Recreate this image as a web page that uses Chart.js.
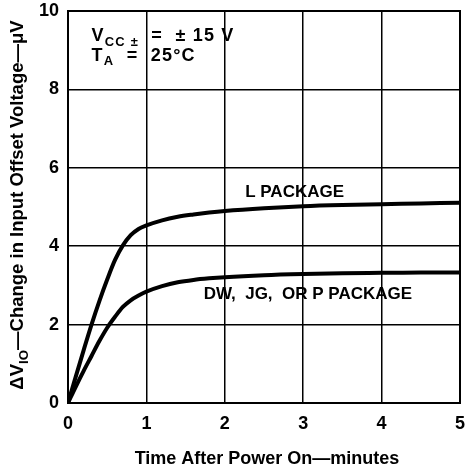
<!DOCTYPE html>
<html>
<head>
<meta charset="utf-8">
<script src="https://cdn.jsdelivr.net/npm/chart.js@4/dist/chart.umd.min.js"></script>
<style>
  html, body { margin: 0; padding: 0; background: #fff; }
  #wrap { width: 468px; height: 468px; }
</style>
</head>
<body>
<div id="wrap"><canvas id="drift" width="468" height="468"></canvas></div>
<script>
// time after power on, minutes
const timeL = [0, 0.1, 0.2, 0.3, 0.4, 0.5, 0.6, 0.7, 0.8, 0.9, 1.0, 1.2, 1.4, 1.6, 1.8, 2.0, 2.5, 3.0, 3.5, 4.0, 4.5, 5.0];
const lPackage = [0, 0.68, 1.35, 2.0, 2.6, 3.15, 3.65, 4.02, 4.28, 4.44, 4.53, 4.66, 4.75, 4.81, 4.86, 4.9, 4.97, 5.02, 5.05, 5.07, 5.09, 5.11];

const timeDW = [0, 0.1, 0.2, 0.3, 0.4, 0.5, 0.6, 0.7, 0.8, 0.9, 1.0, 1.2, 1.4, 1.6, 1.8, 2.0, 2.5, 3.0, 3.5, 4.0, 4.5, 5.0];
const dwPackage = [0, 0.42, 0.82, 1.2, 1.58, 1.92, 2.2, 2.45, 2.62, 2.74, 2.84, 2.98, 3.08, 3.14, 3.18, 3.21, 3.26, 3.29, 3.31, 3.32, 3.33, 3.33];

const xTicks = [0, 1, 2, 3, 4, 5];
const yTicks = [0, 2, 4, 6, 8, 10];

const FONT = '"Liberation Sans", Arial, Helvetica, sans-serif';

function toPoints(xs, ys) {
  return xs.map((x, i) => ({ x, y: ys[i] }));
}

// draws a run of text pieces, some of them as subscripts
function drawRich(ctx, parts, x, y, size, align, spacing) {
  ctx.letterSpacing = (spacing || 0) + 'px';
  const widths = parts.map(p => {
    ctx.font = `bold ${p.sub ? size * 0.72 : size}px ${FONT}`;
    return ctx.measureText(p.t).width;
  });
  const total = widths.reduce((a, b) => a + b, 0);
  let cx = align === 'center' ? x - total / 2 : x;
  ctx.textAlign = 'left';
  ctx.textBaseline = 'alphabetic';
  parts.forEach((p, i) => {
    ctx.font = `bold ${p.sub ? size * 0.72 : size}px ${FONT}`;
    ctx.fillText(p.t, cx, y + (p.sub ? size * 0.25 : 0));
    cx += widths[i];
  });
  ctx.letterSpacing = '0px';
}

const labelsPlugin = {
  id: 'labels',
  afterDraw(chart) {
    const { ctx, chartArea, scales } = chart;
    const xs = scales.x;
    const ys = scales.y;
    ctx.save();
    ctx.fillStyle = '#000';

    // conditions box
    drawRich(ctx, [{ t: 'V' }, { t: 'CC \u00b1', sub: true }, { t: '  =  \u00b1 15 V' }],
      xs.getPixelForValue(0.3), ys.getPixelForValue(9.39) + 6.5, 18, 'left', 1.2);
    drawRich(ctx, [{ t: 'T' }, { t: 'A', sub: true }, { t: '  =  25\u00b0C' }],
      xs.getPixelForValue(0.3), ys.getPixelForValue(8.9) + 6.5, 18, 'left', 1.2);

    // curve labels
    drawRich(ctx, [{ t: 'L PACKAGE' }], xs.getPixelForValue(2.26), ys.getPixelForValue(5.42) + 6, 17, 'left');
    drawRich(ctx, [{ t: 'DW,  JG,  OR P PACKAGE' }], xs.getPixelForValue(1.73), ys.getPixelForValue(2.8) + 6, 17, 'left');

    // x axis title
    drawRich(ctx, [{ t: 'Time After Power On\u2014minutes' }],
      (chartArea.left + chartArea.right) / 2 + 3, 463.5, 18, 'center');

    // y axis title, rotated
    ctx.translate(23, (chartArea.top + chartArea.bottom) / 2 - 2);
    ctx.rotate(-Math.PI / 2);
    drawRich(ctx, [{ t: '\u0394V' }, { t: 'IO', sub: true }, { t: '\u2014Change in Input Offset Voltage\u2014\u03bcV' }],
      0, 0, 18.5, 'center');
    ctx.restore();

    // plot frame
    ctx.save();
    ctx.strokeStyle = '#000';
    ctx.lineWidth = 2;
    ctx.strokeRect(chartArea.left, chartArea.top, chartArea.right - chartArea.left, chartArea.bottom - chartArea.top);
    ctx.restore();
  }
};

new Chart(document.getElementById('drift'), {
  type: 'line',
  data: {
    datasets: [
      {
        label: 'L PACKAGE',
        data: toPoints(timeL, lPackage),
        borderColor: '#000',
        borderWidth: 4,
        pointRadius: 0,
        cubicInterpolationMode: 'monotone',
        fill: false,
      },
      {
        label: 'DW, JG, OR P PACKAGE',
        data: toPoints(timeDW, dwPackage),
        borderColor: '#000',
        borderWidth: 4,
        pointRadius: 0,
        cubicInterpolationMode: 'monotone',
        fill: false,
      },
    ],
  },
  options: {
    responsive: false,
    animation: false,
    layout: {
      padding: { left: 0, right: 8, top: 11, bottom: 0 },
    },
    plugins: {
      legend: { display: false },
      tooltip: { enabled: false },
    },
    scales: {
      x: {
        type: 'linear',
        min: 0,
        max: 5,
        afterBuildTicks: (scale) => { scale.ticks = xTicks.map(v => ({ value: v })); },
        afterFit: (scale) => {
          scale.height = 65;
          scale.paddingLeft = 0;
          scale.paddingRight = 0;
        },
        grid: { color: '#000', lineWidth: 1.5, drawTicks: false },
        border: { display: false },
        ticks: {
          color: '#000',
          padding: 10,
          font: { family: FONT, size: 18, weight: 'bold' },
        },
      },
      y: {
        type: 'linear',
        min: 0,
        max: 10,
        afterBuildTicks: (scale) => { scale.ticks = yTicks.map(v => ({ value: v })); },
        afterFit: (scale) => {
          scale.width = 68;
          scale.paddingTop = 0;
          scale.paddingBottom = 0;
        },
        grid: { color: '#000', lineWidth: 1.5, drawTicks: false },
        border: { display: false },
        ticks: {
          color: '#000',
          padding: 9,
          font: { family: FONT, size: 18, weight: 'bold' },
        },
      },
    },
  },
  plugins: [labelsPlugin],
});
</script>
</body>
</html>
